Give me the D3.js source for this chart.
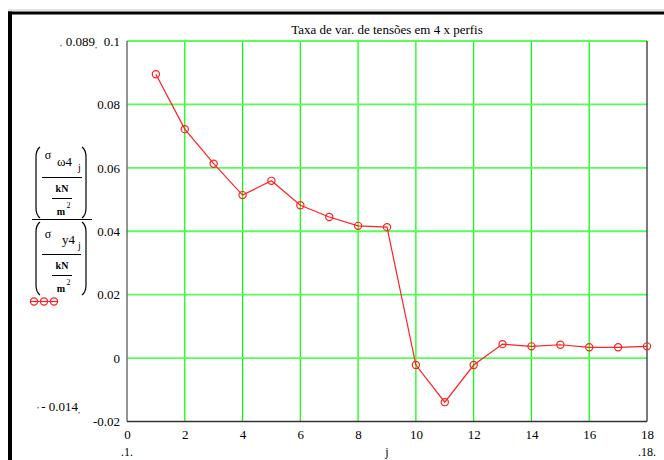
<!DOCTYPE html>
<html>
<head>
<meta charset="utf-8">
<script src="https://cdn.jsdelivr.net/npm/d3@7"></script>
<style>
  html, body { margin: 0; padding: 0; background: #fff; }
  svg { display: block; }
  text { font-family: "Liberation Serif", "DejaVu Serif", serif; fill: #000; }
</style>
</head>
<body>
<script>
// ---- data ----
const jValues = [1, 2, 3, 4, 5, 6, 7, 8, 9, 10, 11, 12, 13, 14, 15, 16, 17, 18];
const ratio = [0.0895, 0.0722, 0.0613, 0.0514, 0.0559, 0.0482, 0.0445, 0.0417, 0.0413,
               -0.0022, -0.0139, -0.0022, 0.0044, 0.0037, 0.0042, 0.0034, 0.0034, 0.0037];
const xTicks = [0, 2, 4, 6, 8, 10, 12, 14, 16, 18];
const yTicks = [-0.02, 0, 0.02, 0.04, 0.06, 0.08, 0.1];
const yTickLabels = ["-0.02", "0", "0.02", "0.04", "0.06", "0.08", "0.1"];
const title = "Taxa de var. de tensões em 4 x perfis";

const W = 664, H = 460;
const SERIF = "'Liberation Serif', 'DejaVu Serif', serif";
const svg = d3.select("body").append("svg").attr("width", W).attr("height", H);

// outer frame
svg.append("line").attr("x1", 8).attr("x2", W).attr("y1", 10).attr("y2", 10)
  .attr("stroke", "#c8c8c8").attr("stroke-width", 1);
svg.append("line").attr("x1", 8).attr("x2", W).attr("y1", 13).attr("y2", 13)
  .attr("stroke", "#000").attr("stroke-width", 3);
svg.append("line").attr("x1", 10).attr("x2", 10).attr("y1", 11.5).attr("y2", H)
  .attr("stroke", "#000").attr("stroke-width", 4);

const L = 127, R = 647, T = 41, B = 421.5;
const x = d3.scaleLinear().domain([0, 18]).range([L, R]);
const y = d3.scaleLinear().domain([-0.02, 0.1]).range([B, T]);

// grid
const g = svg.append("g");
g.selectAll(".vg").data(xTicks.filter(d => d > 0 && d < 18)).enter().append("line")
  .attr("x1", d => x(d)).attr("x2", d => x(d)).attr("y1", T).attr("y2", B)
  .attr("stroke", "#00ff00").attr("stroke-width", 1.2);
g.selectAll(".hg").data(yTicks.filter(d => d > -0.02)).enter().append("line")
  .attr("x1", L).attr("x2", R).attr("y1", d => y(d)).attr("y2", d => y(d))
  .attr("stroke", "#55ff55").attr("stroke-width", d => d === 0.1 ? 2 : 1.8);

// plot frame
svg.append("line").attr("x1", L).attr("x2", L).attr("y1", T).attr("y2", B)
  .attr("stroke", "#707070").attr("stroke-width", 1.5);
svg.append("line").attr("x1", L).attr("x2", R).attr("y1", B).attr("y2", B)
  .attr("stroke", "#333").attr("stroke-width", 1.5);
svg.append("line").attr("x1", R).attr("x2", R).attr("y1", T).attr("y2", B)
  .attr("stroke", "#222").attr("stroke-width", 1.2);

// axes (labels only)
const yAxis = d3.axisLeft(y).tickValues(yTicks).tickSize(0).tickPadding(7)
  .tickFormat((d, i) => yTickLabels[i]);
const ya = svg.append("g").attr("transform", `translate(${L},0)`).call(yAxis)
  .attr("font-family", SERIF).attr("font-size", 13);
ya.select(".domain").remove();
ya.selectAll("text").style("font-family", SERIF).style("font-size", "13px").attr("fill", "#000");

const xAxis = d3.axisBottom(x).tickValues(xTicks).tickSize(0).tickPadding(8);
const xa = svg.append("g").attr("transform", `translate(0,${B})`).call(xAxis)
  .attr("font-family", SERIF).attr("font-size", 13);
xa.select(".domain").remove();
xa.selectAll("text").style("font-family", SERIF).style("font-size", "13px").attr("fill", "#000");

// data line & markers
const line = d3.line().x((d, i) => x(jValues[i])).y(d => y(d));
svg.append("path").datum(ratio).attr("d", line)
  .attr("fill", "none").attr("stroke", "#ff2020").attr("stroke-width", 1.2);
svg.selectAll(".pt").data(ratio).enter().append("circle")
  .attr("cx", (d, i) => x(jValues[i])).attr("cy", d => y(d)).attr("r", 3.6)
  .attr("fill", "none").attr("stroke", "#ff2020").attr("stroke-width", 1.2);

// title
svg.append("text").attr("x", (L + R) / 2).attr("y", 34).attr("text-anchor", "middle")
  .style("font-size", "13px").text(title);

// marker labels
svg.append("text").attr("x", 95).attr("y", 46).attr("text-anchor", "end")
  .style("font-size", "13px").text("0.089");
svg.append("text").attr("x", 60).attr("y", 46).style("font-size", "8px").text(",");
svg.append("text").attr("x", 95).attr("y", 48).style("font-size", "8px").text(",");
svg.append("text").attr("x", 78).attr("y", 411).attr("text-anchor", "end")
  .style("font-size", "13px").text("- 0.014");
svg.append("text").attr("x", 37).attr("y", 408).style("font-size", "8px").text(",");
svg.append("text").attr("x", 78).attr("y", 413).style("font-size", "8px").text(",");

svg.append("text").attr("x", x(0)).attr("y", 456).attr("text-anchor", "middle")
  .style("font-size", "12px").text(".1.");
svg.append("text").attr("x", x(9)).attr("y", 456).attr("text-anchor", "middle")
  .style("font-size", "12px").text("j");
svg.append("text").attr("x", x(18)).attr("y", 456).attr("text-anchor", "middle")
  .style("font-size", "12px").text(".18.");

// y-axis label: big fraction
const yl = svg.append("g");
function paren(x0, y0, y1, left) {
  const dx = left ? 4 : -4;
  yl.append("path")
    .attr("d", `M${x0 + dx},${y0} Q${x0},${y0 + 3} ${x0},${y0 + 10} L${x0},${y1 - 10} Q${x0},${y1 - 3} ${x0 + dx},${y1}`)
    .attr("fill", "none").attr("stroke", "#000").attr("stroke-width", 1.2);
}
function hbar(x0, x1, yy) {
  yl.append("line").attr("x1", x0).attr("x2", x1).attr("y1", yy).attr("y2", yy)
    .attr("stroke", "#000").attr("stroke-width", 1);
}
function txt(tx, ty, s, size, anchor) {
  return yl.append("text").attr("x", tx).attr("y", ty).attr("text-anchor", anchor || "middle")
    .style("font-size", size + "px").text(s);
}
// upper part
paren(36, 147, 218, true);
paren(86, 147, 218, false);
txt(48, 159, "σ", 12);
txt(57, 166, "ω4", 13, "start");
txt(78, 171, "j", 10, "start");
hbar(42, 82, 177.5);
txt(62, 192, "kN", 10).style("font-weight", "bold");
hbar(52, 72, 198.5);
txt(61, 215, "m", 10).style("font-weight", "bold");
txt(68.5, 208, "2", 8);
// main bar
hbar(32, 92, 219.5);
// lower part
paren(36, 222, 295, true);
paren(86, 222, 295, false);
txt(48, 238, "σ", 12);
txt(62, 244, "y4", 13, "start");
txt(78, 249, "j", 10, "start");
hbar(42, 81, 254.5);
txt(62, 269, "kN", 10).style("font-weight", "bold");
hbar(52, 72, 275.5);
txt(61, 292, "m", 10).style("font-weight", "bold");
txt(68.5, 285, "2", 8);

// legend marker
const lm = svg.append("g");
lm.append("line").attr("x1", 30).attr("x2", 58).attr("y1", 301.5).attr("y2", 301.5)
  .attr("stroke", "#ff2020").attr("stroke-width", 1.2);
lm.selectAll("circle").data([34, 44, 54]).enter().append("circle")
  .attr("cx", d => d).attr("cy", 301.5).attr("r", 3.6)
  .attr("fill", "none").attr("stroke", "#ff2020").attr("stroke-width", 1.2);
</script>
</body>
</html>
